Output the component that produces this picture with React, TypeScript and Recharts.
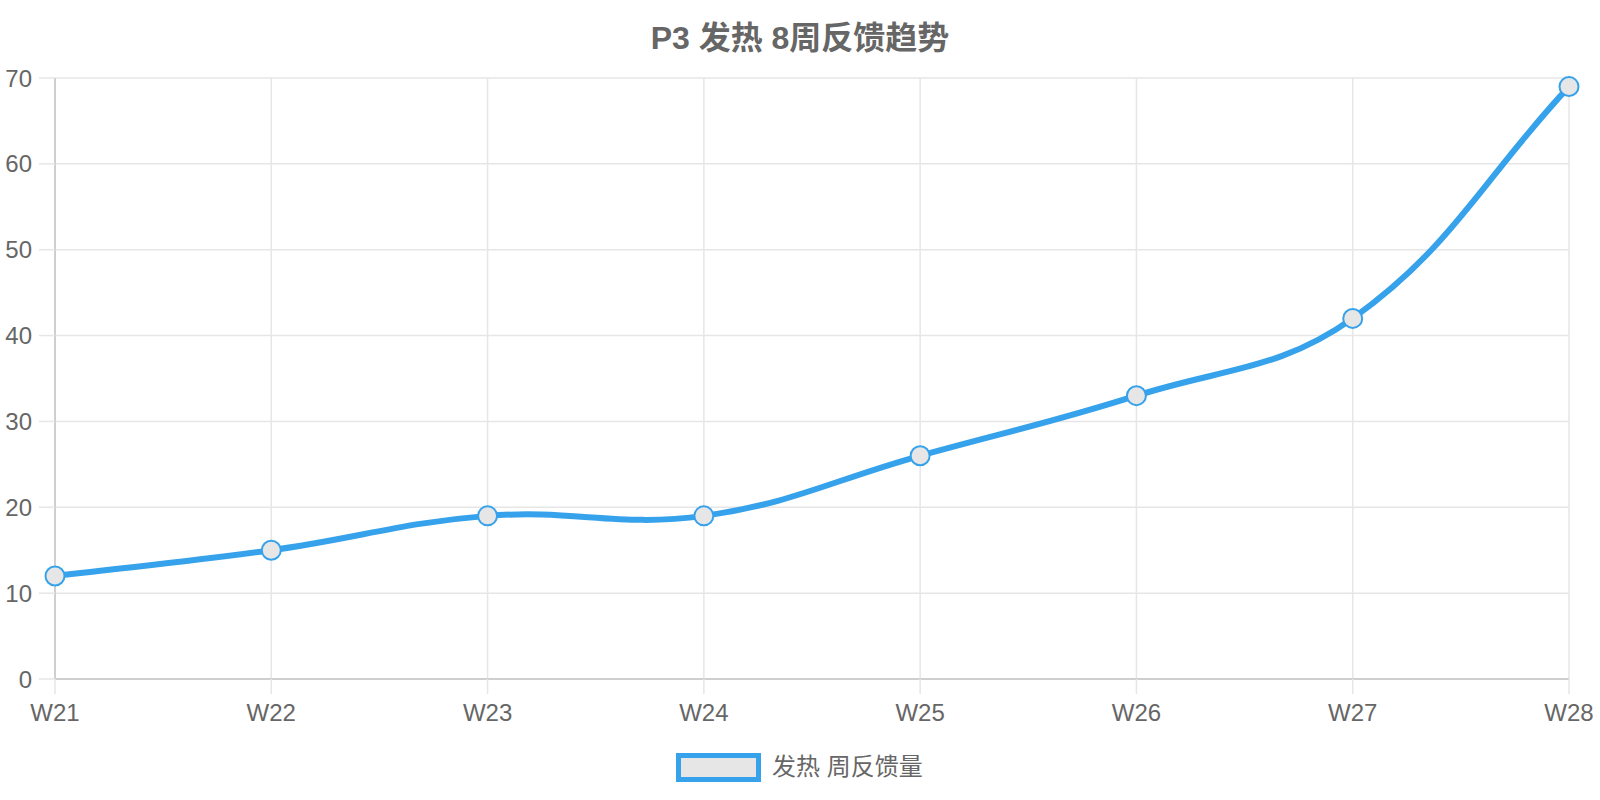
import React from "react";
import { LineChart, Line, XAxis, YAxis, CartesianGrid } from "recharts";

const weeks = ["W21", "W22", "W23", "W24", "W25", "W26", "W27", "W28"];
const feedback = [12, 15, 19, 19, 26, 33, 42, 69];
const yTicks = [0, 10, 20, 30, 40, 50, 60, 70];

const title = "P3 发热 8周反馈趋势";
const seriesName = "发热 周反馈量";

const BLUE = "#36A2EB";
const TEXT = "#666666";
const FONT = '"Liberation Sans", Arial, "Noto Sans CJK SC", sans-serif';

const chartData = weeks.map((w, i) => ({ week: w, value: feedback[i] }));

// cubic bezier like Chart.js (tension 0.4), so the curve can dip between equal points
function splineCurve(tension: number) {
  return (context: any) => {
    let pts: number[][] = [];
    return {
      areaStart() {},
      areaEnd() {},
      lineStart() {
        pts = [];
      },
      point(x: number, y: number) {
        pts.push([+x, +y]);
      },
      lineEnd() {
        const n = pts.length;
        if (!n) return;
        context.moveTo(pts[0][0], pts[0][1]);
        if (n === 1) return;
        const cps = pts.map((p, i) => {
          const prev = pts[Math.max(i - 1, 0)];
          const next = pts[Math.min(i + 1, n - 1)];
          const d01 = Math.hypot(p[0] - prev[0], p[1] - prev[1]);
          const d12 = Math.hypot(next[0] - p[0], next[1] - p[1]);
          let s01 = d01 / (d01 + d12);
          let s12 = d12 / (d01 + d12);
          if (isNaN(s01)) s01 = 0;
          if (isNaN(s12)) s12 = 0;
          const fa = tension * s01;
          const fb = tension * s12;
          return {
            px: p[0] - fa * (next[0] - prev[0]),
            py: p[1] - fa * (next[1] - prev[1]),
            nx: p[0] + fb * (next[0] - prev[0]),
            ny: p[1] + fb * (next[1] - prev[1]),
          };
        });
        for (let i = 1; i < n; i++) {
          context.bezierCurveTo(cps[i - 1].nx, cps[i - 1].ny, cps[i].px, cps[i].py, pts[i][0], pts[i][1]);
        }
      },
    };
  };
}

const curve = splineCurve(0.4);

export default function App() {
  return (
    <div style={{ position: "absolute", left: 0, top: 0, width: 1600, height: 800, background: "#fff", fontFamily: FONT }}>
      <div
        style={{
          position: "absolute",
          left: 0,
          width: 1600,
          top: 17,
          textAlign: "center",
          fontSize: 32,
          fontWeight: "bold",
          color: TEXT,
          lineHeight: "42px",
        }}
      >
        {title}
      </div>

      <LineChart width={1600} height={800} data={chartData} margin={{ top: 78, right: 31, bottom: 61, left: 0 }}>
        <CartesianGrid stroke="#e6e6e6" strokeWidth={1.5} />
        <XAxis
          dataKey="week"
          height={60}
          tickSize={15}
          tickMargin={10}
          interval={0}
          axisLine={{ stroke: "#cfcfcf", strokeWidth: 2 }}
          tickLine={{ stroke: "#e6e6e6", strokeWidth: 1.5 }}
          tick={{ fill: TEXT, fontSize: 24, fontFamily: FONT }}
        />
        <YAxis
          width={55}
          domain={[0, 70]}
          ticks={yTicks}
          tickSize={16}
          tickMargin={7}
          axisLine={{ stroke: "#cfcfcf", strokeWidth: 2 }}
          tickLine={{ stroke: "#e6e6e6", strokeWidth: 1.5 }}
          tick={{ fill: TEXT, fontSize: 24, fontFamily: FONT }}
        />
        <Line
          dataKey="value"
          type={curve as any}
          stroke="none"
          strokeWidth={0}
          dot={{ r: 9.5, fill: "#e6e6e6", stroke: BLUE, strokeWidth: 2 }}
          activeDot={false}
          legendType="none"
          isAnimationActive={false}
        />
        <Line
          dataKey="value"
          name={seriesName}
          type={curve as any}
          stroke={BLUE}
          strokeWidth={6}
          dot={false}
          activeDot={false}
          isAnimationActive={false}
        />
      </LineChart>

      <div
        style={{
          position: "absolute",
          left: 676,
          top: 753,
          width: 85,
          height: 29,
          boxSizing: "border-box",
          border: `5.5px solid ${BLUE}`,
          background: "#e6e6e6",
        }}
      />
      <div
        style={{
          position: "absolute",
          left: 772,
          top: 751,
          fontSize: 24,
          lineHeight: "32px",
          color: TEXT,
          whiteSpace: "nowrap",
        }}
      >
        {seriesName}
      </div>
    </div>
  );
}
